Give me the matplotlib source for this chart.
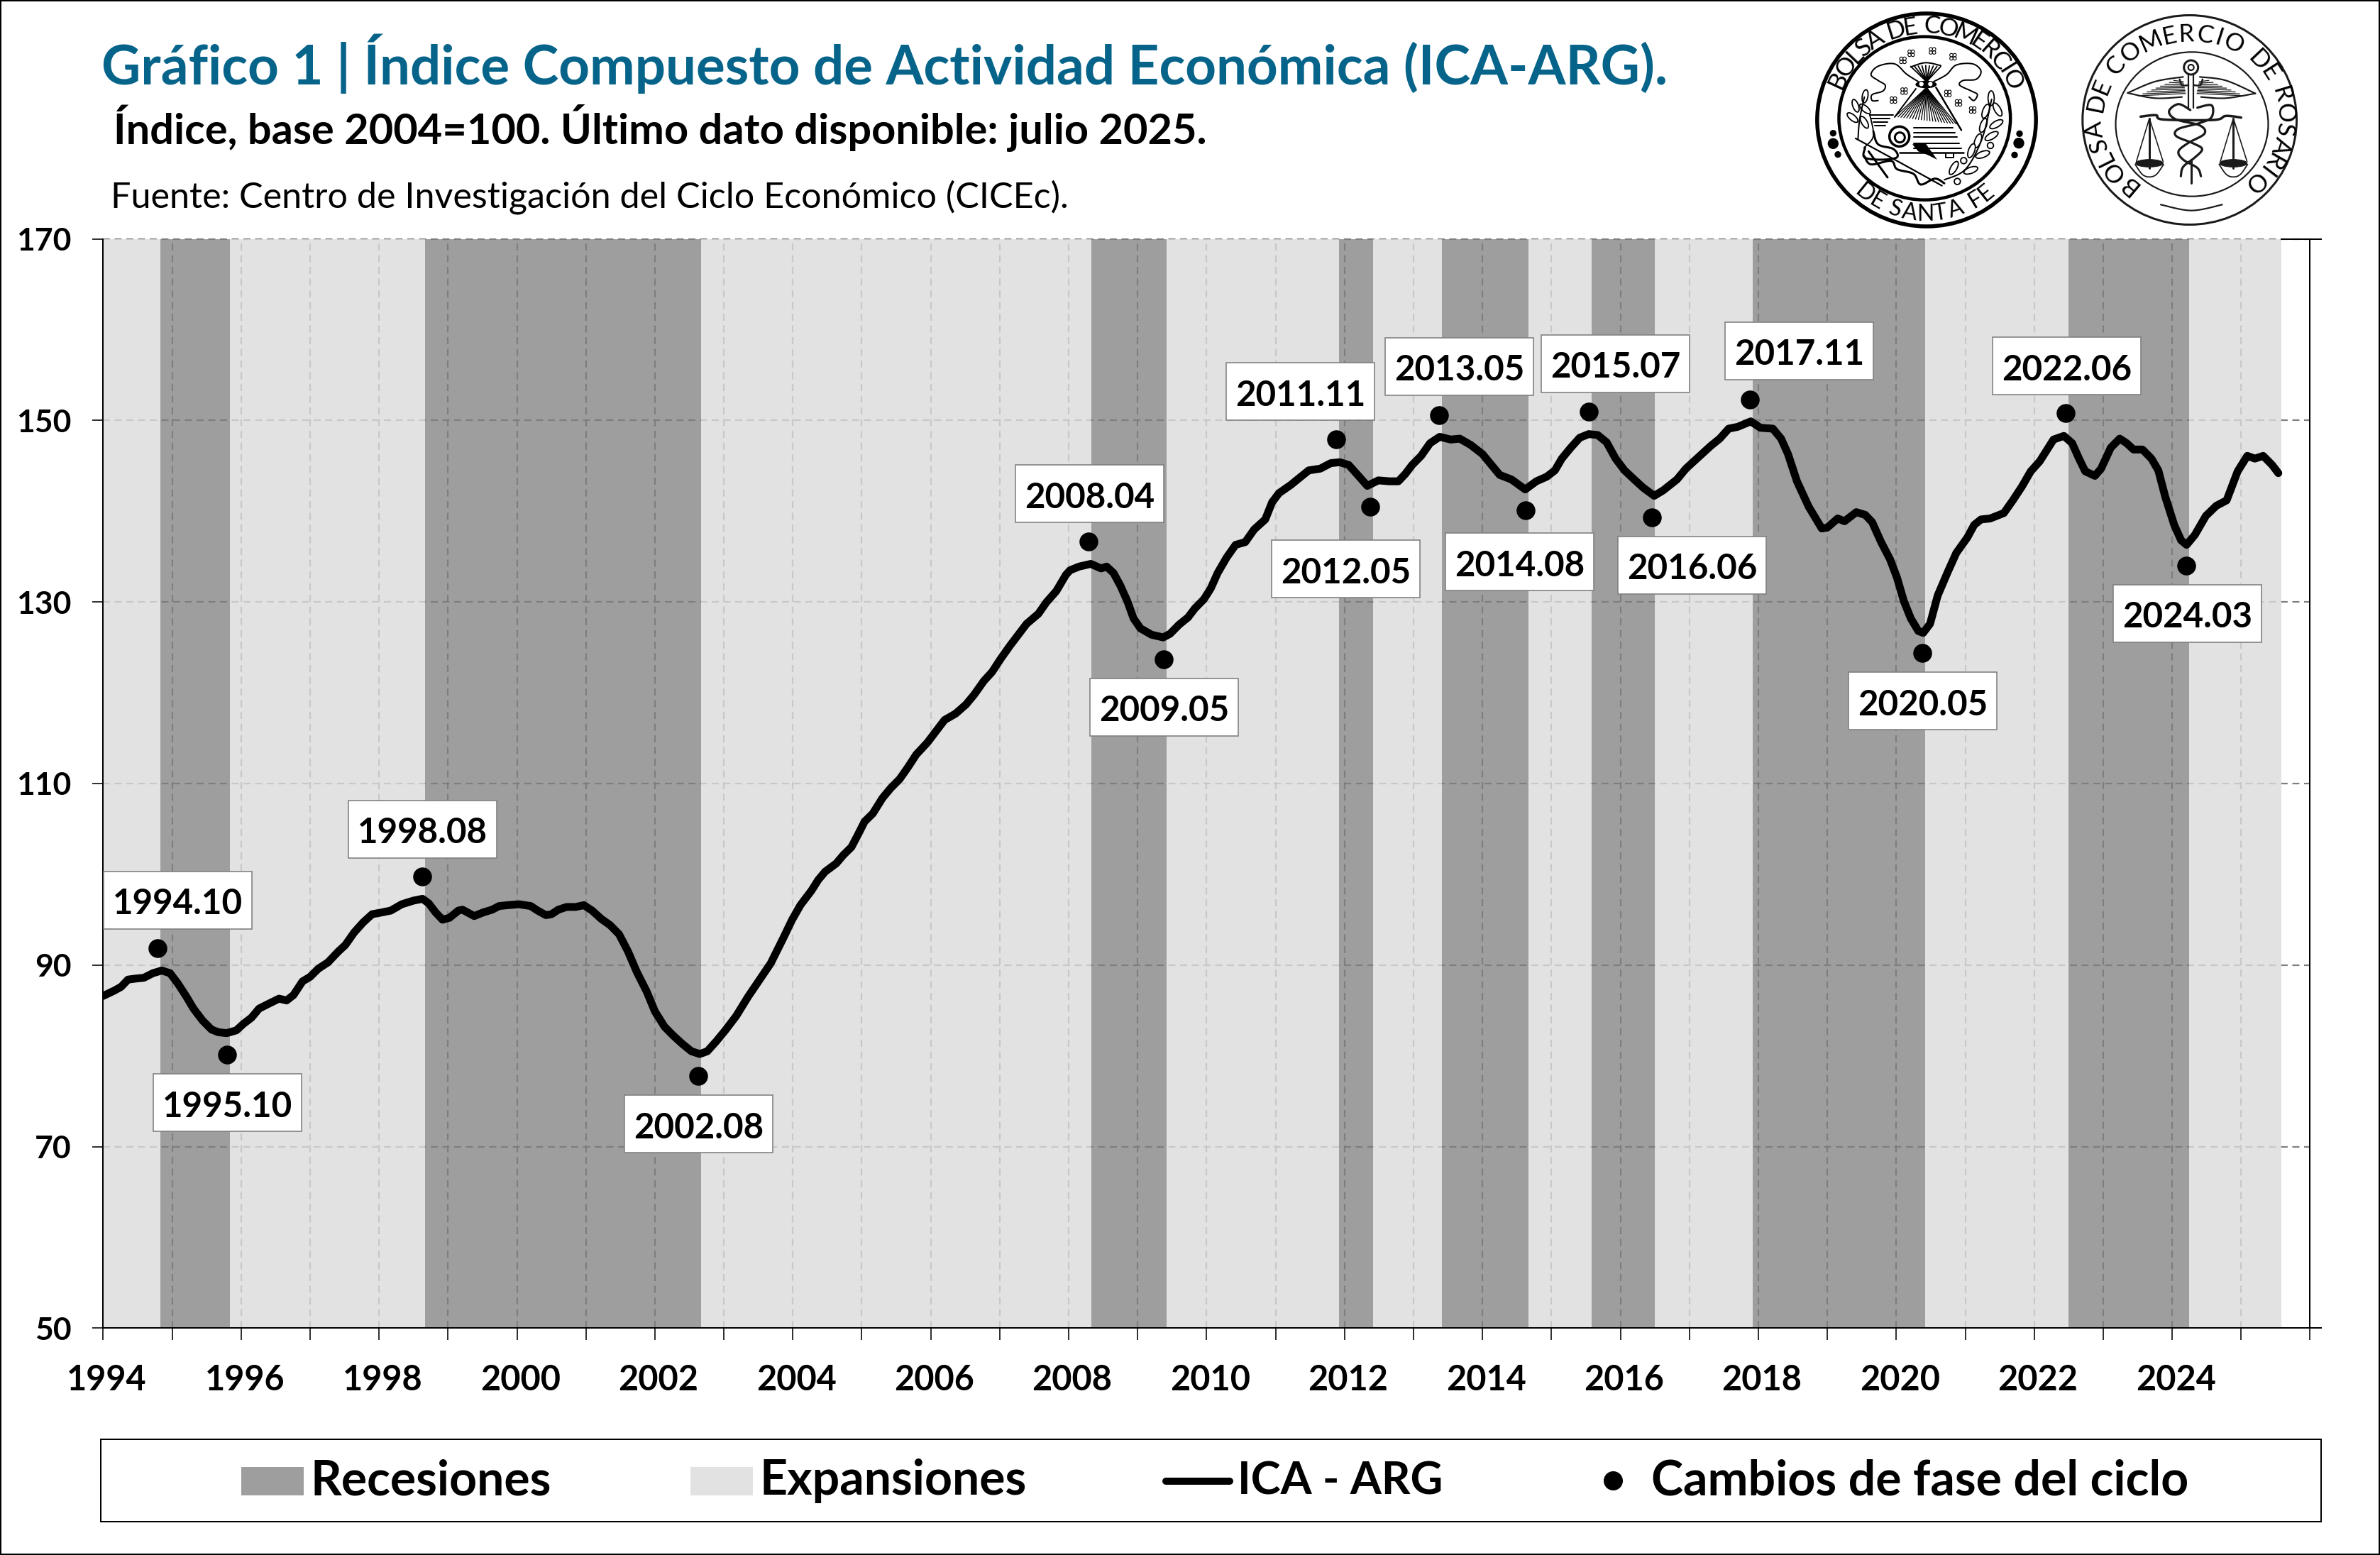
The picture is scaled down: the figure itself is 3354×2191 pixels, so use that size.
#!/usr/bin/env python3
"""ICA-ARG composite activity index with business cycle phases."""
import numpy as np
import matplotlib
matplotlib.use("Agg")
import matplotlib.pyplot as plt
from matplotlib.patches import Rectangle, Ellipse, Polygon
from matplotlib.lines import Line2D
from matplotlib.transforms import ScaledTranslation

# ---------------------------------------------------------------------------
# Data
# ---------------------------------------------------------------------------
ica_dates = [
    1994.0, 1994.165, 1994.26, 1994.36, 1994.46, 1994.59, 1994.72, 1994.85, 1994.97,
    1995.08, 1995.2, 1995.31, 1995.44, 1995.57, 1995.67, 1995.79, 1995.93,
    1996.03, 1996.15, 1996.26, 1996.39, 1996.55, 1996.66, 1996.76, 1996.89,
    1997.0, 1997.12, 1997.26, 1997.41, 1997.51, 1997.64, 1997.77, 1997.9,
    1998.04, 1998.17, 1998.33, 1998.5, 1998.63, 1998.72, 1998.82, 1998.92,
    1999.02, 1999.15, 1999.21, 1999.38, 1999.51, 1999.64, 1999.74, 1999.87,
    2000.03, 2000.2, 2000.3, 2000.42, 2000.5, 2000.6, 2000.72, 2000.85, 2000.97,
    2001.09, 2001.22, 2001.35, 2001.48, 2001.61, 2001.74, 2001.88,
    2002.0, 2002.14, 2002.27, 2002.4, 2002.53, 2002.65, 2002.76, 2002.89,
    2003.02, 2003.18, 2003.35, 2003.51, 2003.68, 2003.87, 2003.99,
    2004.11, 2004.27, 2004.37, 2004.47, 2004.63, 2004.73, 2004.85, 2004.94,
    2005.04, 2005.16, 2005.3, 2005.42, 2005.55, 2005.67, 2005.79, 2005.95,
    2006.08, 2006.2, 2006.36, 2006.51, 2006.63, 2006.77, 2006.89,
    2007.01, 2007.15, 2007.29, 2007.39, 2007.56, 2007.68, 2007.82, 2007.96,
    2008.02, 2008.15, 2008.32, 2008.47, 2008.55, 2008.65, 2008.75, 2008.85, 2008.94,
    2009.04, 2009.2, 2009.37, 2009.47, 2009.6, 2009.73, 2009.83, 2009.96,
    2010.06, 2010.16, 2010.29, 2010.42, 2010.56, 2010.69, 2010.85, 2010.95,
    2011.05, 2011.22, 2011.35, 2011.48, 2011.65, 2011.8, 2011.93,
    2012.06, 2012.19, 2012.33, 2012.49, 2012.65, 2012.78, 2012.88, 2012.98,
    2013.11, 2013.24, 2013.38, 2013.54, 2013.67, 2013.83,
    2014.0, 2014.13, 2014.25, 2014.42, 2014.62, 2014.78, 2014.93,
    2015.05, 2015.15, 2015.28, 2015.41, 2015.54, 2015.67, 2015.8, 2015.93,
    2016.06, 2016.2, 2016.33, 2016.49, 2016.62, 2016.82, 2016.95,
    2017.08, 2017.31, 2017.44, 2017.57, 2017.7, 2017.89,
    2018.03, 2018.21, 2018.33, 2018.43, 2018.56, 2018.73, 2018.92,
    2019.0, 2019.15, 2019.25, 2019.42, 2019.55, 2019.65, 2019.78, 2019.91,
    2020.01, 2020.11, 2020.21, 2020.32, 2020.39, 2020.49, 2020.6, 2020.74, 2020.87,
    2021.03, 2021.13, 2021.23, 2021.36, 2021.56, 2021.69, 2021.82, 2021.95,
    2022.08, 2022.28, 2022.43, 2022.55, 2022.65, 2022.74, 2022.88, 2022.97,
    2023.11, 2023.24, 2023.34, 2023.44, 2023.57, 2023.7, 2023.8, 2023.9,
    2024.03, 2024.13, 2024.21, 2024.33, 2024.49, 2024.64, 2024.79, 2024.95,
    2025.09, 2025.2, 2025.32, 2025.45, 2025.54,
]
ica_values = [
    86.6, 87.2, 87.6, 88.4, 88.5, 88.6, 89.1, 89.4, 89.1,
    88.0, 86.6, 85.2, 83.9, 82.9, 82.6, 82.5, 82.8,
    83.5, 84.2, 85.2, 85.7, 86.3, 86.1, 86.7, 88.2,
    88.7, 89.6, 90.3, 91.5, 92.2, 93.6, 94.7, 95.6,
    95.8, 96.0, 96.7, 97.1, 97.3, 96.8, 95.8, 95.0,
    95.2, 96.0, 96.1, 95.4, 95.8, 96.1, 96.5, 96.6,
    96.7, 96.5, 96.0, 95.5, 95.6, 96.1, 96.4, 96.4, 96.6,
    96.0, 95.1, 94.4, 93.4, 91.5, 89.2, 87.1,
    84.9, 83.2, 82.2, 81.3, 80.5, 80.2, 80.5, 81.6,
    82.8, 84.4, 86.5, 88.3, 90.2, 93.1, 95.0,
    96.6, 98.2, 99.4, 100.3, 101.2, 102.1, 103.0, 104.3,
    105.8, 106.7, 108.4, 109.5, 110.5, 111.8, 113.2, 114.5,
    115.8, 117.0, 117.7, 118.7, 119.8, 121.3, 122.3,
    123.7, 125.2, 126.6, 127.6, 128.7, 130.0, 131.2, 133.0,
    133.5, 133.9, 134.2, 133.7, 133.9, 133.2, 131.8, 130.1, 128.2,
    127.1, 126.4, 126.1, 126.5, 127.5, 128.3, 129.3, 130.3,
    131.5, 133.2, 134.9, 136.3, 136.6, 138.0, 139.1, 141.0,
    142.0, 142.9, 143.7, 144.5, 144.7, 145.3, 145.4,
    145.1, 144.0, 142.8, 143.4, 143.3, 143.3, 144.1, 145.1,
    146.1, 147.5, 148.2, 147.9, 148.0, 147.3,
    146.3, 145.1, 144.0, 143.5, 142.4, 143.3, 143.8,
    144.5, 145.8, 147.0, 148.1, 148.5, 148.4, 147.6, 145.8,
    144.5, 143.5, 142.6, 141.7, 142.3, 143.5, 144.7,
    145.6, 147.2, 148.0, 149.1, 149.3, 149.9,
    149.2, 149.1, 148.0, 146.3, 143.3, 140.5, 138.1,
    138.2, 139.2, 138.9, 139.9, 139.6, 138.8, 136.6, 134.7,
    132.7, 130.1, 128.2, 126.8, 126.6, 127.6, 130.7, 133.2, 135.4,
    137.1, 138.5, 139.1, 139.2, 139.8, 141.2, 142.7, 144.4,
    145.5, 147.9, 148.3, 147.5, 145.8, 144.4, 143.9, 144.7,
    147.0, 148.0, 147.5, 146.8, 146.8, 145.8, 144.5, 141.6,
    138.5, 136.8, 136.3, 137.4, 139.5, 140.6, 141.2, 144.4,
    146.1, 145.8, 146.1, 145.1, 144.2,
]

# cycle turning points: peak, trough, peak, ...
phase_years = [1994, 1995, 1998, 2002, 2008, 2009, 2011, 2012,
               2013, 2014, 2015, 2016, 2017, 2020, 2022, 2024]
phase_months = [10, 10, 8, 8, 4, 5, 11, 5, 5, 8, 7, 6, 11, 5, 6, 3]
phase_labels = ["1994.10", "1995.10", "1998.08", "2002.08", "2008.04", "2009.05",
                "2011.11", "2012.05", "2013.05", "2014.08", "2015.07", "2016.06",
                "2017.11", "2020.05", "2022.06", "2024.03"]
phase_values = [91.85, 80.15, 99.75, 77.8, 136.7, 123.7, 147.9, 140.5,
                150.6, 140.1, 151.0, 139.3, 152.3, 124.4, 150.8, 134.0]

# left / top of each label box in image pixels
label_left = [146, 216, 491, 880, 1431, 1536, 1728, 1792,
              1952, 2037, 2172, 2280, 2431, 2605, 2808, 2978]
label_top = [1228, 1513, 1128, 1543, 655, 956, 511, 761,
             476, 751, 472, 756, 454, 947, 475, 824]

WIDTH, HEIGHT = 3354, 2191
DPI = 100
FONT = "Lato"
RECESSION = "#7E7E7E"
EXPANSION = "#DBDBDB"
TEAL = "#06648A"

plt.rcParams["font.family"] = [FONT, "DejaVu Sans"]


def px(n):
    """Pixels to points."""
    return n * 72.0 / DPI


fig = plt.figure(figsize=(WIDTH / DPI, HEIGHT / DPI), dpi=DPI, facecolor="white")

# ---------------------------------------------------------------------------
# Main axes
# ---------------------------------------------------------------------------
AX_L, AX_R, AX_T, AX_B = 145.4, 3271.0, 336.7, 1871.3
ax = fig.add_axes([AX_L / WIDTH, 1 - AX_B / HEIGHT,
                   (AX_R - AX_L) / WIDTH, (AX_B - AX_T) / HEIGHT])
ax.set_xlim(1994, 2026.16)
ax.set_ylim(50, 170)

years = np.arange(1994, 2027)
levels = np.arange(50, 171, 20)
grid_kw = dict(color="#7F7F7F", linewidth=px(2.2), linestyles=[(0, (4.5, 3))], zorder=0.5)
ax.vlines(years[1:-1], 50, 170, **grid_kw)
ax.hlines(levels[1:], 1994, 2026, clip_on=False, **grid_kw)

# phase bands go over the grid, translucent
edges = [y + m / 12 for y, m in zip(phase_years, phase_months)]
end_band = 2025 + 7 / 12
for start, stop in zip(edges[0::2], edges[1::2]):
    ax.axvspan(start, stop, facecolor=RECESSION, edgecolor="none", alpha=0.75, zorder=1)
expansion_starts = [1994] + edges[1::2]
expansion_stops = edges[0::2] + [end_band]
for start, stop in zip(expansion_starts, expansion_stops):
    ax.axvspan(start, stop, facecolor=EXPANSION, edgecolor="none", alpha=0.8, zorder=1)

ax.plot(ica_dates, ica_values, color="black", linewidth=px(11), zorder=3,
        solid_joinstyle="round", solid_capstyle="round")
phase_x = [y + (m - 0.5) / 12 for y, m in zip(phase_years, phase_months)]
ax.scatter(phase_x, phase_values, s=px(26.5) ** 2, color="black", linewidths=0, zorder=4)

ax.axvline(2026, color="black", linewidth=px(2), zorder=2)
ax.plot([end_band, 2026.16], [170, 170], color="black", linewidth=px(2), clip_on=False, zorder=2)

for side in ("top", "right"):
    ax.spines[side].set_visible(False)
for side in ("left", "bottom"):
    ax.spines[side].set_linewidth(px(2))
    ax.spines[side].set_zorder(5)

ax.set_xticks(years)
ax.set_xticklabels([str(y) if (y % 2 == 0 and y < 2026) else "" for y in years],
                   fontsize=35, fontweight="bold")
ax.set_yticks(levels)
ax.set_yticklabels([str(v) for v in levels], fontsize=32, fontweight="bold")
ax.tick_params(axis="x", length=px(17), width=px(1.6), pad=px(34))
ax.tick_params(axis="y", length=px(15), width=px(1.6), pad=px(30))
# year labels sit a little right of their ticks
nudge = ScaledTranslation(5 / DPI, 0, fig.dpi_scale_trans)
for lab in ax.get_xticklabels():
    lab.set_transform(lab.get_transform() + nudge)

# ---------------------------------------------------------------------------
# Overlay in image pixels: titles, labels, legend, logos, frame
# ---------------------------------------------------------------------------
ov = fig.add_axes([0, 0, 1, 1], zorder=10)
ov.set_xlim(0, WIDTH)
ov.set_ylim(HEIGHT, 0)
ov.axis("off")
ov.patch.set_alpha(0)

ov.add_patch(Rectangle((0, 0), WIDTH, HEIGHT, fill=False, ec="black", lw=px(4)))

ov.text(143, 90, "Gráfico 1 | Índice Compuesto de Actividad Económica (ICA-ARG).",
        fontsize=55, fontweight="bold", color=TEAL, va="center", ha="left")
ov.text(160, 180, "Índice, base 2004=100. Último dato disponible: julio 2025.",
        fontsize=42.8, fontweight="bold", color="black", va="center", ha="left")
ov.text(156, 278, "Fuente: Centro de Investigación del Ciclo Económico (CICEc).",
        fontsize=36.2, color="black", va="center", ha="left")

for text, left, top in zip(phase_labels, label_left, label_top):
    ov.add_patch(Rectangle((left, top), 209, 81, fc="white", ec="#7F7F7F", lw=px(1.6), zorder=2))
    ov.text(left + 104.5, top + 46, text, fontsize=35.5, fontweight="bold",
            ha="center", va="center", zorder=3)

# legend
ov.add_patch(Rectangle((141.6, 2028), 3129.4, 116, fill=False, ec="black", lw=px(2)))
ov.add_patch(Rectangle((340, 2067), 88, 40, fc="#9E9E9E", ec="none"))
ov.add_patch(Rectangle((973, 2067), 88, 40, fc="#E2E2E2", ec="none"))
ov.add_line(Line2D([1643, 1733], [2087, 2087], color="black", lw=px(10), solid_capstyle="round"))
ov.add_line(Line2D([2273.5], [2086], marker="o", ms=px(27), color="black", mew=0))
legend_font = dict(fontweight="bold", va="center", ha="left")
ov.text(438, 2087, "Recesiones", fontsize=49, **legend_font)
ov.text(1071, 2087, "Expansiones", fontsize=49, **legend_font)
ov.text(1744, 2087, "ICA - ARG", fontsize=45.5, **legend_font)
ov.text(2327, 2087, "Cambios de fase del ciclo", fontsize=49, **legend_font)


# ---------------------------------------------------------------------------
# Logos, redrawn roughly. Shapes are given in 3x sketch units, see to_px.
# ---------------------------------------------------------------------------
LETTER_WIDTH = {" ": 0.5, "I": 0.45, "L": 0.75, "E": 0.8, "S": 0.8, "F": 0.75,
                "A": 1.05, "C": 1.05, "D": 1.1, "O": 1.2, "M": 1.25}


def arc_text(cx, cy, rx, ry, text, start, stop, size, upright_top=True):
    """One letter at a time along an oval, spaced by rough letter width."""
    widths = np.array([LETTER_WIDTH.get(ch, 0.95) for ch in text])
    pos = np.cumsum(widths) - widths / 2
    pos = (pos - pos[0]) / (pos[-1] - pos[0])
    for ch, f in zip(text, pos):
        a = start + (stop - start) * f
        x = cx + rx * np.cos(np.radians(a))
        y = cy - ry * np.sin(np.radians(a))
        rot = a - 90 if upright_top else a + 90
        ov.text(x, y, ch, fontsize=size, rotation=rot, rotation_mode="anchor",
                ha="center", va="center", color="black")


def smooth(pts, n=8):
    """Catmull-Rom through the sketch points."""
    p = np.array(pts, dtype=float)
    p = np.vstack([p[0], p, p[-1]])
    out = []
    for i in range(1, len(p) - 2):
        for t in np.linspace(0, 1, n, endpoint=False):
            out.append(0.5 * (2 * p[i] + (p[i + 1] - p[i - 1]) * t
                              + (2 * p[i - 1] - 5 * p[i] + 4 * p[i + 1] - p[i + 2]) * t ** 2
                              + (3 * p[i] - p[i - 1] - 3 * p[i + 1] + p[i + 2]) * t ** 3))
    out.append(p[-2])
    return np.array(out)


def make_sketch(x0, y0, color):
    def to_px(pts):
        a = np.array(pts, dtype=float)
        return np.column_stack([x0 + a[:, 0] / 3, y0 + a[:, 1] / 3])

    def stroke(pts, lw=2.0, curved=True):
        a = to_px(smooth(pts) if curved and len(pts) > 2 else pts)
        ov.add_line(Line2D(a[:, 0], a[:, 1], color=color, lw=px(lw), solid_capstyle="round",
                           solid_joinstyle="round"))

    def oval(x, y, w, h, lw=2.0, fc="none", angle=0):
        c = to_px([(x, y)])[0]
        ov.add_patch(Ellipse(c, w / 3, h / 3, angle=angle, fc=fc, ec=color, lw=px(lw)))

    return stroke, oval, to_px


# Bolsa de Comercio de Santa Fe
stroke, oval, to_px = make_sketch(2540, 5, "black")
oval(525, 492, 925, 900, lw=5.5)
oval(517, 485, 725, 690, lw=4.5)
arc_text(2713, 168, 135, 131, "BOLSA DE COMERCIO", 155, 25, 25)
arc_text(2713, 168, 136, 134, "DE SANTA FE", 231, 309, 23, upright_top=False)
for x, y, w in ((130, 548, 28), (130, 592, 46), (150, 638, 28),
                (918, 550, 28), (915, 590, 46), (897, 640, 28)):
    oval(x, y, w, w, lw=0, fc="black")
# sheaf, ribbons
for x in np.linspace(458, 585, 9):
    stroke([(525, 330), (x, 262 + abs(x - 520) * 0.06)], lw=1.8, curved=False)
stroke([(458, 268), (520, 250), (585, 262)], lw=2)
for x in np.linspace(392, 650, 22):
    stroke([(525, 355), (x, 478 + (x - 392) * 0.12)], lw=1.3, curved=False)
oval(523, 342, 90, 32, lw=0, fc="black")
oval(503, 340, 22, 22, lw=1, fc="white")
oval(541, 340, 22, 22, lw=1, fc="white")
stroke([(490, 330), (440, 298), (390, 255), (320, 265), (290, 300), (320, 325), (350, 345),
        (340, 370), (295, 385), (295, 410), (320, 410)], lw=2)
stroke([(555, 330), (610, 300), (650, 260), (720, 255), (755, 285), (735, 320), (680, 325),
        (665, 345), (715, 370), (740, 385), (725, 410), (705, 395)], lw=2)
stroke([(480, 360), (390, 480)], lw=2, curved=False)
stroke([(565, 355), (672, 535)], lw=2.5, curved=False)
# building
for y, right in ((525, 635), (545, 645), (565, 655), (590, 662), (612, 672)):
    stroke([(470, y), (right, y)], lw=2, curved=False)
stroke([(410, 630), (682, 630)], lw=2.5, curved=False)
stroke([(605, 632), (605, 650), (640, 650), (640, 632)], lw=2, curved=False)
# book, medal, snake, staff
for y, right in ((470, 385), (485, 370), (500, 360), (515, 350)):
    stroke([(285 + (y - 470) * 0.5, y), (right, y)], lw=2, curved=False)
stroke([(285, 470), (300, 560), (260, 610)], lw=1.8)
oval(410, 562, 84, 84, lw=3.5, fc="white")
oval(412, 566, 42, 42, lw=3)
ov.add_patch(Polygon(to_px([(465, 595), (520, 590), (570, 660), (530, 640), (490, 625)]),
                     fc="black", ec="none"))
stroke([(225, 570), (400, 665), (590, 770)], lw=2.2, curved=False)
stroke([(280, 625), (360, 735)], lw=3, curved=False)
stroke([(300, 540), (320, 595), (385, 615), (400, 650), (330, 660), (262, 650), (265, 610)], lw=3)
stroke([(262, 645), (290, 680), (375, 665), (400, 700), (470, 720), (500, 765), (560, 740), (600, 760)], lw=3)
# wreath
stroke([(235, 575), (242, 490), (262, 395)], lw=2)
for x, y, ang in ((225, 432, 70), (265, 392, 100), (265, 445, 40), (212, 482, 40), (262, 502, 60)):
    oval(x, y, 56, 24, lw=1.8, fc="white", angle=ang)
stroke([(600, 745), (690, 700), (760, 570), (800, 405)], lw=2)
for x, y, ang in ((798, 400, 90), (825, 448, 60), (775, 455, 110), (820, 510, -30), (765, 515, 110),
                  (800, 560, -30), (742, 580, 110), (762, 638, -20), (715, 622, 110),
                  (640, 695, 120), (712, 705, -20)):
    oval(x, y, 62, 26, lw=1.8, fc="white", angle=ang)
for x, y in ((682, 664), (795, 600), (655, 752)):
    oval(x, y, 26, 26, lw=1.8)
# little stars
for x, y in ((425, 240), (460, 210), (550, 200), (637, 225), (430, 370),
             (385, 408), (615, 380), (660, 420), (720, 450)):
    for dx, dy in ((-7, -7), (7, -7), (-7, 7), (7, 7)):
        oval(x + dx, y + dy, 14, 14, lw=1.1)

# Bolsa de Comercio de Rosario
stroke, oval, to_px = make_sketch(2920, 5, "#1A1A1A")
oval(497, 492, 905, 885, lw=3)
oval(507, 510, 645, 610, lw=2.2)
arc_text(3086, 168, 134, 120, "BOLSA DE COMERCIO DE ROSARIO", 230, -47, 25)
# caduceus with wings
oval(503, 270, 60, 60, lw=3)
oval(503, 270, 24, 24, lw=2.2)
stroke([(492, 300), (492, 440)], lw=2.2, curved=False)
stroke([(514, 300), (514, 440)], lw=2.2, curved=False)
stroke([(503, 660), (503, 760)], lw=3, curved=False)
stroke([(455, 320), (465, 345), (492, 345)], lw=2.5)
stroke([(552, 320), (542, 345), (514, 345)], lw=2.5)
stroke([(470, 310), (350, 330), (235, 378)], lw=2.2)
stroke([(235, 378), (350, 400), (465, 395)], lw=2.2)
stroke([(540, 310), (650, 325), (775, 380)], lw=2.2)
stroke([(775, 380), (650, 400), (545, 395)], lw=2.2)
for f in np.linspace(0, 1, 9):
    stroke([(470 + 10 * f, 330 + 50 * f), (430 - 150 * f, 325 + 65 * f)], lw=1.3, curved=False)
    stroke([(538 - 10 * f, 330 + 50 * f), (578 + 150 * f, 325 + 65 * f)], lw=1.3, curved=False)
# beam and pans
stroke([(290, 478), (355, 472), (385, 490), (600, 492), (650, 475), (715, 482)], lw=3.5)
for cx in (327, 682):
    stroke([(cx, 485), (cx - 55, 668)], lw=1.6, curved=False)
    stroke([(cx, 485), (cx + 58, 668)], lw=1.6, curved=False)
    stroke([(cx, 485), (cx, 695)], lw=3, curved=False)
    oval(cx, 675, 116, 32, lw=1, fc="#1A1A1A")
    stroke([(cx - 60, 680), (cx - 30, 722), (cx, 733), (cx + 30, 722), (cx + 60, 680)], lw=1.8)
# snakes
stroke([(500, 450), (450, 425), (410, 455), (440, 490), (540, 515), (560, 550), (490, 590),
        (450, 625), (470, 660), (530, 695), (545, 730)], lw=3.2)
stroke([(530, 440), (590, 430), (590, 480), (540, 505), (450, 530), (440, 560), (510, 590),
        (550, 615), (520, 650), (470, 690), (460, 730)], lw=3.2)
stroke([(375, 850), (505, 875), (635, 850)], lw=2.2)

fig.savefig("out.png", dpi=DPI, facecolor="white")
